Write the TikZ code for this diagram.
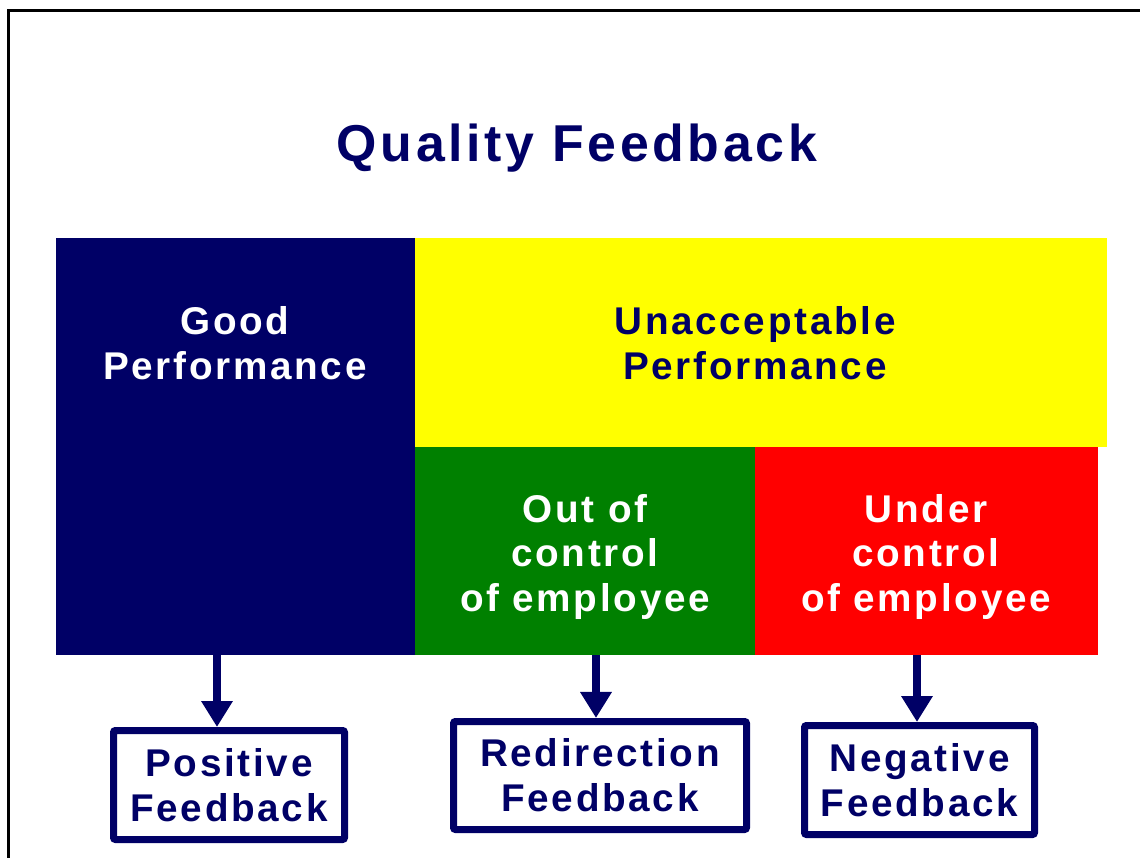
\documentclass[tikz,border=0pt]{standalone}
\usepackage{fontspec}
\newfontfamily\qualityfont{Liberation Sans}[LetterSpace=7]
\usetikzlibrary{arrows.meta}
\definecolor{qnavy}{RGB}{0,0,102}
\definecolor{qgreen}{RGB}{0,128,0}
\definecolor{qred}{RGB}{255,0,0}
\definecolor{qyellow}{RGB}{255,255,0}
\tikzset{
  block/.style={inner sep=0pt, outer sep=0pt},
  blocktext/.style={align=center, font=\qualityfont\bfseries\fontsize{22}{25.6}\selectfont},
  feedbox/.style={draw=qnavy, line width=0.14cm, rounded corners=0.04cm, fill=white,
    align=center, text=qnavy, inner sep=0pt,
    font=\qualityfont\bfseries\fontsize{22}{25.6}\selectfont},
  downarrow/.style={draw=qnavy, line width=0.16cm, -{Triangle[length=0.52cm, width=0.60cm]}}
}
\begin{document}
\begin{tikzpicture}
            \useasboundingbox (0,0) rectangle (22.800000,17.140000);
            
            % Page frame
            \draw [line width=0.06cm] (0.160000,-0.200000) -- (0.160000,16.920000) -- (23.000000,16.920000);%
            
            % Title
            \node [text=qnavy, font=\qualityfont\bfseries\fontsize{29.5}{34}\selectfont, anchor=base] (title) at (11.540000,13.900000) {Quality Feedback};%
            
            % Coloured blocks
            \node [block, fill=qnavy, minimum width=7.180000cm, minimum height=8.340000cm] (good) at (4.710000,8.210000) {};%
            \node [block, fill=qyellow, minimum width=13.840000cm, minimum height=4.180000cm] (bad) at (15.220000,10.290000) {};%
            \node [block, fill=qgreen, minimum width=6.800000cm, minimum height=4.160000cm] (outctl) at (11.700000,6.120000) {};%
            \node [block, fill=qred, minimum width=6.860000cm, minimum height=4.160000cm] (underctl) at (18.530000,6.120000) {};%
            
            % Block texts
            \node [blocktext, text=white] (goodtext) at (4.700000,10.270000) {Good\\Performance};%
            \node [blocktext, text=qnavy] (badtext) at (15.100000,10.270000) {Unacceptable\\Performance};%
            \node [blocktext, text=white] (outtext) at (11.700000,6.000000) {Out of\\control\\of employee};%
            \node [blocktext, text=white] (undertext) at (18.520000,6.000000) {Under\\control\\of employee};%
            
            % Feedback boxes
            \node [feedbox, minimum width=4.620000cm, minimum height=2.180000cm] (positive) at (4.580000,1.440000) {Positive\\Feedback};%
            \node [feedbox, minimum width=5.860000cm, minimum height=2.160000cm] (redirect) at (12.000000,1.630000) {Redirection\\Feedback};%
            \node [feedbox, minimum width=4.600000cm, minimum height=2.180000cm] (negative) at (18.390000,1.540000) {Negative\\Feedback};%
            
            % Arrows down to the boxes
            \coordinate (from1) at (4.340000,4.040000);%
            \coordinate (from2) at (11.920000,4.040000);%
            \coordinate (from3) at (18.340000,4.040000);%
            \draw [downarrow] (from1) -- (from1 |- positive.north);%
            \draw [downarrow] (from2) -- (from2 |- redirect.north);%
            \draw [downarrow] (from3) -- (from3 |- negative.north);%
        \end{tikzpicture}
\end{document}
